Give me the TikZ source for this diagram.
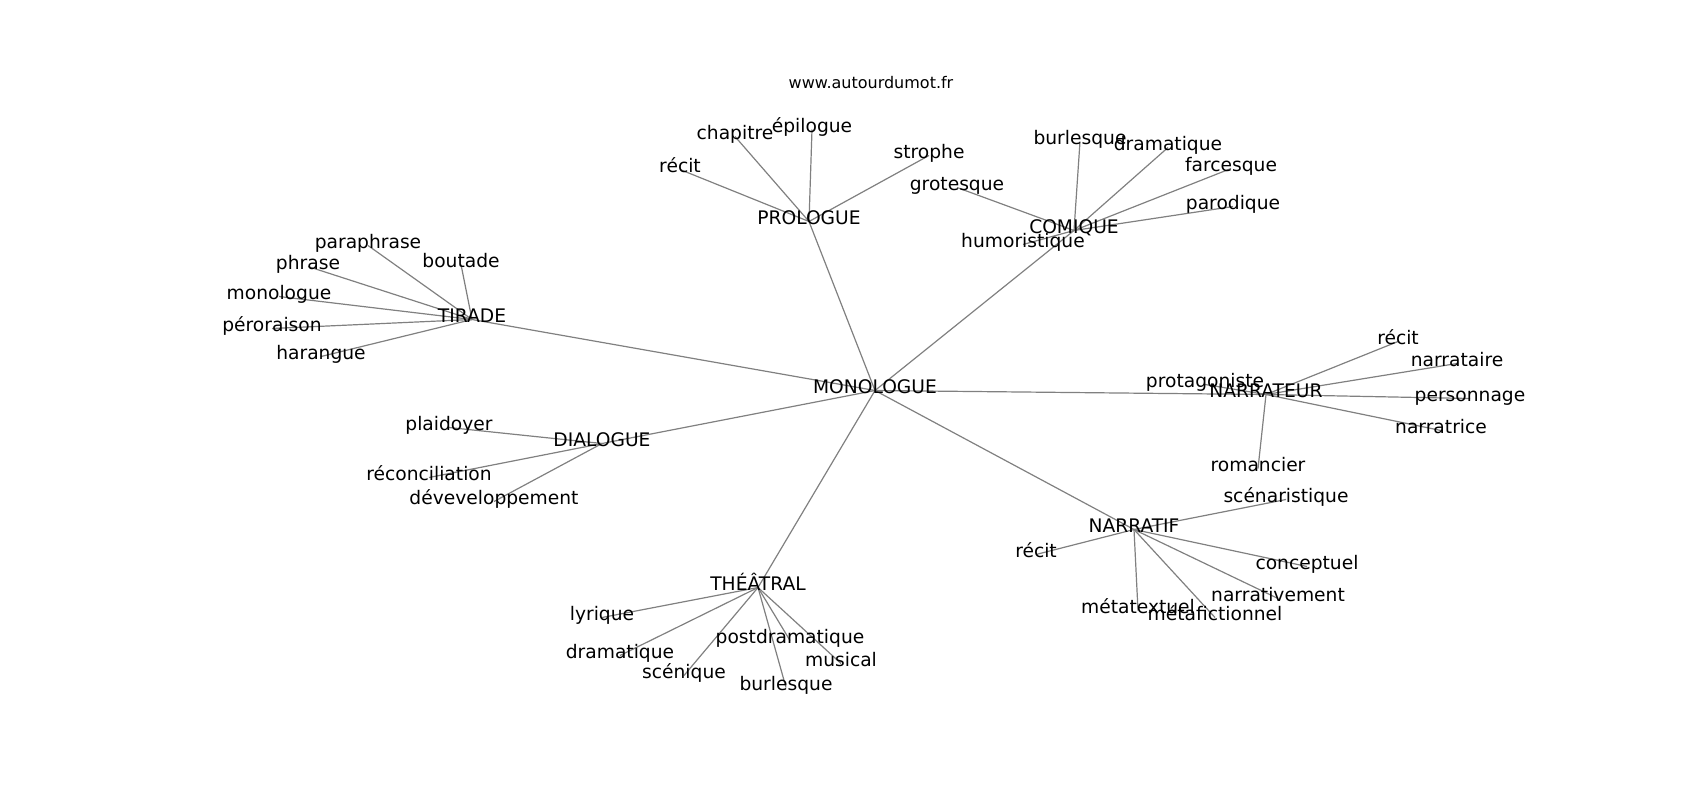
\documentclass[tikz,border=0pt]{standalone}
\usepackage{fontspec}
\setmainfont{DejaVu Sans}
\usetikzlibrary{backgrounds}
\tikzset{
    wordnode/.style={
        inner sep=0, % pas de marge
        text height=0.76em,
        text depth=0.208em,
        font=\fontsize{18.67}{22}\selectfont
    },
    titlenode/.style={
        inner sep=0,
        font=\fontsize{16}{19}\selectfont
    },
    linkline/.style={
        draw=gray, % trait gris
        line width=1.2pt
    }
}

\begin{document}
\begin{tikzpicture}[x=1pt,y=-1pt]
    \path[use as bounding box] (0,0) rectangle (1700,800);
    \node[titlenode] (site) at (871,83) {www.autourdumot.fr};

    \begin{scope}[yshift=-4.5pt]
    % centre et mots principaux
    \node[wordnode] (mono) at (875,386) {MONOLOGUE};
    \node[wordnode] (prol) at (809,217) {PROLOGUE};
    \node[wordnode] (comi) at (1074,226) {COMIQUE};
    \node[wordnode] (tira) at (472,315) {TIRADE};
    \node[wordnode] (dial) at (602,439) {DIALOGUE};
    \node[wordnode] (narr) at (1266,390) {NARRATEUR};
    \node[wordnode] (nrtf) at (1134,525) {NARRATIF};
    \node[wordnode] (thea) at (758,583) {THÉÂTRAL};

    % PROLOGUE
    \node[wordnode] (prol-1) at (680,165) {récit};
    \node[wordnode] (prol-2) at (735,132) {chapitre};
    \node[wordnode] (prol-3) at (812,125) {épilogue};
    \node[wordnode] (prol-4) at (929,151) {strophe};

    % COMIQUE
    \node[wordnode] (comi-1) at (957,183) {grotesque};
    \node[wordnode] (comi-2) at (1080,137) {burlesque};
    \node[wordnode] (comi-3) at (1168,143) {dramatique};
    \node[wordnode] (comi-4) at (1231,164) {farcesque};
    \node[wordnode] (comi-5) at (1233,202) {parodique};
    \node[wordnode] (comi-6) at (1023,240) {humoristique};

    % TIRADE
    \node[wordnode] (tira-1) at (368,241) {paraphrase};
    \node[wordnode] (tira-2) at (308,262) {phrase};
    \node[wordnode] (tira-3) at (461,260) {boutade};
    \node[wordnode] (tira-4) at (279,292) {monologue};
    \node[wordnode] (tira-5) at (272,324) {péroraison};
    \node[wordnode] (tira-6) at (321,352) {harangue};

    % DIALOGUE
    \node[wordnode] (dial-1) at (449,423) {plaidoyer};
    \node[wordnode] (dial-2) at (429,473) {réconciliation};
    \node[wordnode] (dial-3) at (494,497) {déveveloppement};

    % NARRATEUR
    \node[wordnode] (narr-1) at (1205,380) {protagoniste};
    \node[wordnode] (narr-2) at (1398,337) {récit};
    \node[wordnode] (narr-3) at (1457,359) {narrataire};
    \node[wordnode] (narr-4) at (1470,394) {personnage};
    \node[wordnode] (narr-5) at (1441,426) {narratrice};
    \node[wordnode] (narr-6) at (1258,464) {romancier};

    % NARRATIF
    \node[wordnode] (nrtf-1) at (1286,495) {scénaristique};
    \node[wordnode] (nrtf-2) at (1036,550) {récit};
    \node[wordnode] (nrtf-3) at (1307,562) {conceptuel};
    \node[wordnode] (nrtf-4) at (1278,594) {narrativement};
    \node[wordnode] (nrtf-5) at (1138,606) {métatextuel};
    \node[wordnode] (nrtf-6) at (1215,613) {métafictionnel};

    % THÉÂTRAL
    \node[wordnode] (thea-1) at (602,613) {lyrique};
    \node[wordnode] (thea-2) at (620,651) {dramatique};
    \node[wordnode] (thea-3) at (684,671) {scénique};
    \node[wordnode] (thea-4) at (790,636) {postdramatique};
    \node[wordnode] (thea-5) at (841,659) {musical};
    \node[wordnode] (thea-6) at (786,683) {burlesque};
    \end{scope}

    % liens (sous le texte)
    \begin{scope}[on background layer]
        \foreach \h in {prol,comi,tira,dial,narr,nrtf,thea}
            \draw[linkline] (mono.center) -- (\h.center);
        \foreach \i in {1,...,4}
            \draw[linkline] (prol.center) -- (prol-\i.center);
        \foreach \i in {1,...,3}
            \draw[linkline] (dial.center) -- (dial-\i.center);
        \foreach \h in {comi,tira,narr,nrtf,thea}
            \foreach \i in {1,...,6}
                \draw[linkline] (\h.center) -- (\h-\i.center);
    \end{scope}
\end{tikzpicture}
\end{document}
